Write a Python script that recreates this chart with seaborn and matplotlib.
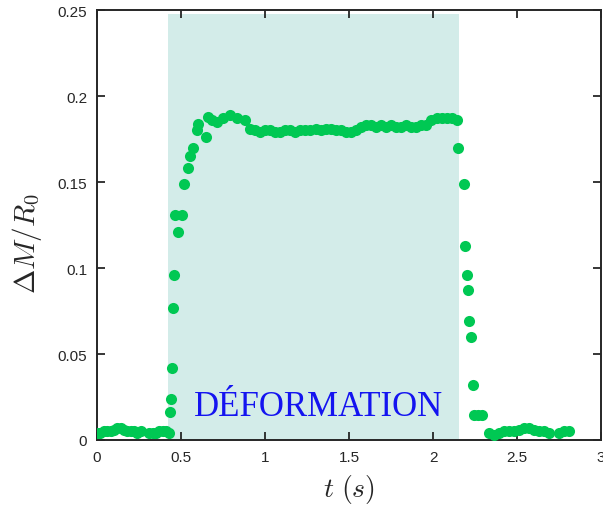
import matplotlib
matplotlib.use("Agg")
import matplotlib.pyplot as plt
import pandas as pd
import seaborn as sns

# time (s) and normalised response
t_before = [0.00, 0.02, 0.04, 0.06, 0.08, 0.10, 0.12, 0.14, 0.16, 0.18, 0.20,
            0.22, 0.24, 0.26, 0.31, 0.33, 0.35, 0.37, 0.39, 0.41]
y_before = [0.004, 0.004, 0.005, 0.005, 0.005, 0.006, 0.007, 0.007, 0.006, 0.005, 0.005,
            0.005, 0.004, 0.005, 0.004, 0.004, 0.004, 0.005, 0.005, 0.005]

t_rise = [0.430, 0.435, 0.440, 0.446, 0.452, 0.458, 0.464, 0.482, 0.506, 0.518, 0.542,
          0.554, 0.571, 0.595, 0.601, 0.649, 0.661, 0.685, 0.714, 0.750, 0.792, 0.833,
          0.881, 0.911]
y_rise = [0.004, 0.016, 0.024, 0.042, 0.077, 0.096, 0.131, 0.121, 0.131, 0.149, 0.158,
          0.165, 0.170, 0.180, 0.184, 0.176, 0.188, 0.186, 0.185, 0.187, 0.189, 0.187,
          0.186, 0.181]

t_plateau = [0.94, 0.97, 1.00, 1.03, 1.06, 1.09, 1.12, 1.15, 1.18, 1.21, 1.24, 1.27,
             1.30, 1.33, 1.36, 1.39, 1.42, 1.45, 1.48, 1.51, 1.54,
             1.57, 1.60, 1.63, 1.66, 1.69, 1.72, 1.75, 1.78, 1.81, 1.84, 1.87, 1.90,
             1.93, 1.96, 1.99, 2.02, 2.05, 2.08, 2.11, 2.14]
y_plateau = [0.180, 0.179, 0.180, 0.180, 0.179, 0.179, 0.180, 0.180, 0.179, 0.180, 0.180,
             0.180, 0.181, 0.180, 0.181, 0.181, 0.180, 0.180, 0.179, 0.179, 0.180,
             0.182, 0.183, 0.183, 0.182, 0.183, 0.182, 0.183, 0.182, 0.182, 0.183, 0.182,
             0.182, 0.183, 0.183, 0.186, 0.187, 0.187, 0.187, 0.187, 0.186]

t_fall = [2.150, 2.185, 2.190, 2.200, 2.210, 2.214, 2.226, 2.238, 2.244, 2.265, 2.290]
y_fall = [0.170, 0.149, 0.113, 0.096, 0.087, 0.069, 0.060, 0.032, 0.0145, 0.0145, 0.0145]

t_after = [2.33, 2.36, 2.39, 2.42, 2.45, 2.48, 2.51, 2.54, 2.57, 2.60, 2.63, 2.66,
           2.69, 2.75, 2.78, 2.81]
y_after = [0.004, 0.003, 0.004, 0.005, 0.005, 0.005, 0.006, 0.007, 0.007, 0.006, 0.005,
           0.005, 0.004, 0.004, 0.005, 0.005]

# deformation window
t_start, t_end = 0.42, 2.155

df = pd.DataFrame({
    "t": t_before + t_rise + t_plateau + t_fall + t_after,
    "y": y_before + y_rise + y_plateau + y_fall + y_after,
})

sns.set_style("ticks")
plt.rcParams["font.family"] = ["Liberation Sans", "DejaVu Sans"]
plt.rcParams["mathtext.fontset"] = "cm"

fig = plt.figure(figsize=(6.03, 5.06), dpi=100)
ax = fig.add_axes([0.161, 0.1285, 0.836, 0.8495])

ax.axvspan(t_start, t_end, ymax=0.992, color="#d3ece9", lw=0, zorder=0)
sns.scatterplot(data=df, x="t", y="y", ax=ax, color="#00c853", s=64,
                linewidth=0, zorder=3)

ax.text(1.32, 0.0195, "DÉFORMATION", color="#1414f0", family="Liberation Serif",
        fontsize=25, ha="center", va="center", zorder=4)

ax.set_xlim(0, 3)
ax.set_ylim(0, 0.25)
ax.set_xticks([0, 0.5, 1, 1.5, 2, 2.5, 3])
ax.set_xticklabels(["0", "0.5", "1", "1.5", "2", "2.5", "3"])
ax.set_yticks([0, 0.05, 0.1, 0.15, 0.2, 0.25])
ax.set_yticklabels(["0", "0.05", "0.1", "0.15", "0.2", "0.25"])
ax.tick_params(direction="in", length=6, width=1.3, top=True, right=True,
               labelsize=11, colors="#262626", pad=7)
for sp in ax.spines.values():
    sp.set_linewidth(1.4)
    sp.set_color("#262626")

ax.set_xlabel(r"$t\ (s)$", fontsize=20, labelpad=6)
ax.set_ylabel(r"$\Delta M/R_0$", fontsize=21)
ax.yaxis.set_label_coords(-0.105, 0.46)

fig.savefig("out.png", dpi=100)
